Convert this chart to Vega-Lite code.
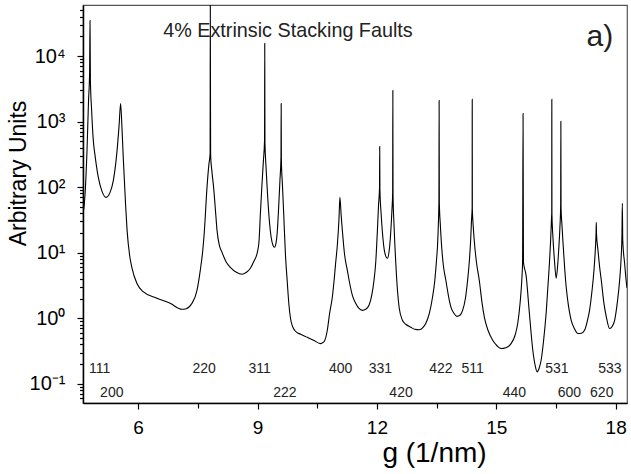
{
  "$schema": "https://vega.github.io/schema/vega-lite/v6.json",
  "width": 544,
  "height": 398,
  "autosize": {"type": "none"},
  "padding": {"left": 83, "top": 5, "right": 4, "bottom": 71},
  "background": "white",
  "config": {
    "view": {"stroke": "#555", "strokeWidth": 1.2},
    "font": "Liberation Sans",
    "axis": {"domainColor": "black", "domainWidth": 1.5, "tickColor": "black", "tickWidth": 1.2, "labelColor": "black", "labelFont": "Liberation Sans", "titleFont": "Liberation Sans", "titleColor": "black", "titleFontWeight": "normal", "grid": false}
  },
  "datasets": {
    "curve": [
      {"g":4.615,"I":37.2},{"g":4.665,"I":75},{"g":4.716,"I":364},{"g":4.754,"I":2100},{"g":4.781,"I":5620},{"g":4.791,"I":34900},{"g":4.801,"I":4250},{"g":4.832,"I":1480},{"g":4.874,"I":517},{"g":4.917,"I":305},{"g":5.0,"I":141},{"g":5.093,"I":86.3},{"g":5.194,"I":69.9},{"g":5.295,"I":83.3},{"g":5.378,"I":127},{"g":5.464,"I":327},{"g":5.522,"I":875},{"g":5.56,"I":1890},{"g":5.597,"I":734},{"g":5.63,"I":256},{"g":5.686,"I":52.8},{"g":5.723,"I":21.9},{"g":5.786,"I":9.13},{"g":5.842,"I":5.99},{"g":5.968,"I":3.42},{"g":6.134,"I":2.52},{"g":6.471,"I":2.02},{"g":6.806,"I":1.69},{"g":7.101,"I":1.37},{"g":7.209,"I":1.4},{"g":7.353,"I":1.69},{"g":7.479,"I":2.67},{"g":7.562,"I":5.39},{"g":7.625,"I":10.9},{"g":7.663,"I":20.5},{"g":7.731,"I":99.3},{"g":7.776,"I":215},{"g":7.809,"I":327},{"g":7.814,"I":60000},{"g":7.822,"I":305},{"g":7.852,"I":180},{"g":7.897,"I":99.3},{"g":7.953,"I":37.2},{"g":7.983,"I":21.9},{"g":8.041,"I":13},{"g":8.109,"I":10.1},{"g":8.217,"I":7.14},{"g":8.318,"I":5.99},{"g":8.469,"I":5.03},{"g":8.612,"I":4.69},{"g":8.721,"I":5.03},{"g":8.821,"I":5.78},{"g":8.909,"I":7.39},{"g":8.99,"I":9.8},{"g":9.036,"I":14.4},{"g":9.073,"I":39.9},{"g":9.111,"I":107},{"g":9.149,"I":256},{"g":9.177,"I":517},{"g":9.182,"I":15600},{"g":9.187,"I":482},{"g":9.212,"I":215},{"g":9.242,"I":99.3},{"g":9.287,"I":37.2},{"g":9.343,"I":17.2},{"g":9.388,"I":13},{"g":9.426,"I":12.1},{"g":9.464,"I":13.9},{"g":9.494,"I":19.8},{"g":9.534,"I":52.8},{"g":9.564,"I":127},{"g":9.59,"I":285},{"g":9.595,"I":1890},{"g":9.6,"I":256},{"g":9.627,"I":107},{"g":9.66,"I":37.2},{"g":9.703,"I":9.13},{"g":9.745,"I":3.8},{"g":9.791,"I":1.58},{"g":9.829,"I":1.0},{"g":9.879,"I":0.755},{"g":9.955,"I":0.634},{"g":10.081,"I":0.57},{"g":10.25,"I":0.513},{"g":10.409,"I":0.462},{"g":10.585,"I":0.411},{"g":10.668,"I":0.435},{"g":10.754,"I":0.656},{"g":10.812,"I":1.19},{"g":10.88,"I":2.09},{"g":10.925,"I":3.8},{"g":10.963,"I":6.89},{"g":11.006,"I":13},{"g":11.046,"I":31.2},{"g":11.071,"I":69.9},{"g":11.102,"I":37.2},{"g":11.132,"I":21.9},{"g":11.19,"I":9.13},{"g":11.258,"I":5.39},{"g":11.316,"I":3.42},{"g":11.384,"I":2.24},{"g":11.467,"I":1.69},{"g":11.55,"I":1.41},{"g":11.636,"I":1.32},{"g":11.719,"I":1.37},{"g":11.802,"I":1.58},{"g":11.87,"I":2.24},{"g":11.928,"I":3.8},{"g":11.971,"I":7.14},{"g":12.013,"I":21.9},{"g":12.041,"I":52.8},{"g":12.066,"I":95.9},{"g":12.071,"I":417},{"g":12.076,"I":89.4},{"g":12.104,"I":41.3},{"g":12.139,"I":20.5},{"g":12.197,"I":10.1},{"g":12.265,"I":8.21},{"g":12.31,"I":10.9},{"g":12.348,"I":20.5},{"g":12.378,"I":44.3},{"g":12.396,"I":80.4},{"g":12.401,"I":2990},{"g":12.406,"I":75},{"g":12.431,"I":26.2},{"g":12.474,"I":7.14},{"g":12.517,"I":2.67},{"g":12.562,"I":1.42},{"g":12.643,"I":0.932},{"g":12.726,"I":0.81},{"g":12.852,"I":0.729},{"g":12.953,"I":0.68},{"g":13.061,"I":0.668},{"g":13.154,"I":0.717},{"g":13.23,"I":0.839},{"g":13.318,"I":1.19},{"g":13.398,"I":2.09},{"g":13.456,"I":3.8},{"g":13.494,"I":7.14},{"g":13.524,"I":13},{"g":13.544,"I":26.2},{"g":13.559,"I":62.9},{"g":13.564,"I":2100},{"g":13.569,"I":58.7},{"g":13.595,"I":26.2},{"g":13.625,"I":13},{"g":13.67,"I":6.43},{"g":13.733,"I":3.8},{"g":13.796,"I":2.24},{"g":13.859,"I":1.49},{"g":13.935,"I":1.19},{"g":14.01,"I":1.07},{"g":14.086,"I":1.11},{"g":14.154,"I":1.32},{"g":14.225,"I":2.02},{"g":14.28,"I":3.8},{"g":14.325,"I":7.66},{"g":14.356,"I":15.5},{"g":14.378,"I":31.2},{"g":14.394,"I":49.2},{"g":14.396,"I":2180},{"g":14.399,"I":45.9},{"g":14.419,"I":26.2},{"g":14.446,"I":15.5},{"g":14.502,"I":7.14},{"g":14.573,"I":3.8},{"g":14.641,"I":1.75},{"g":14.699,"I":1.05},{"g":14.792,"I":0.656},{"g":14.91,"I":0.462},{"g":15.019,"I":0.381},{"g":15.119,"I":0.345},{"g":15.245,"I":0.355},{"g":15.371,"I":0.411},{"g":15.472,"I":0.551},{"g":15.54,"I":0.839},{"g":15.598,"I":1.69},{"g":15.641,"I":3.8},{"g":15.661,"I":7.14},{"g":15.673,"I":1330},{"g":15.683,"I":7.14},{"g":15.749,"I":4.52},{"g":15.832,"I":1.19},{"g":15.918,"I":0.325},{"g":15.976,"I":0.192},{"g":16.026,"I":0.152},{"g":16.077,"I":0.173},{"g":16.127,"I":0.229},{"g":16.19,"I":0.462},{"g":16.253,"I":1.19},{"g":16.303,"I":3.42},{"g":16.336,"I":6.89},{"g":16.366,"I":15.5},{"g":16.386,"I":31.2},{"g":16.394,"I":41.3},{"g":16.396,"I":2180},{"g":16.399,"I":38.5},{"g":16.421,"I":18.4},{"g":16.462,"I":7.66},{"g":16.505,"I":4.07},{"g":16.537,"I":5.78},{"g":16.568,"I":10.9},{"g":16.598,"I":23.5},{"g":16.618,"I":52.8},{"g":16.623,"I":1010},{"g":16.628,"I":47.5},{"g":16.651,"I":26.2},{"g":16.673,"I":15.5},{"g":16.719,"I":5.78},{"g":16.757,"I":3.0},{"g":16.82,"I":1.47},{"g":16.883,"I":0.932},{"g":16.959,"I":0.704},{"g":17.052,"I":0.585},{"g":17.135,"I":0.59},{"g":17.218,"I":0.656},{"g":17.286,"I":0.9},{"g":17.344,"I":1.32},{"g":17.407,"I":2.67},{"g":17.455,"I":5.39},{"g":17.488,"I":10.9},{"g":17.508,"I":20.5},{"g":17.513,"I":29.1},{"g":17.518,"I":19.8},{"g":17.556,"I":10.9},{"g":17.601,"I":5.78},{"g":17.639,"I":3.8},{"g":17.702,"I":1.75},{"g":17.765,"I":1.05},{"g":17.848,"I":0.697},{"g":17.916,"I":0.755},{"g":17.974,"I":0.932},{"g":18.042,"I":1.75},{"g":18.1,"I":3.8},{"g":18.137,"I":8.21},{"g":18.158,"I":18.4},{"g":18.168,"I":56.6},{"g":18.178,"I":15.5},{"g":18.225,"I":6.89},{"g":18.268,"I":3.54},{"g":18.285,"I":2.9}
    ],
    "labels": [
      {"g":5.036,"I":0.167,"t":"111"},{"g":7.658,"I":0.167,"t":"220"},{"g":9.053,"I":0.167,"t":"311"},{"g":11.089,"I":0.167,"t":"400"},{"g":12.089,"I":0.167,"t":"331"},{"g":13.607,"I":0.167,"t":"422"},{"g":14.406,"I":0.167,"t":"511"},{"g":16.524,"I":0.167,"t":"531"},{"g":17.857,"I":0.167,"t":"533"},
      {"g":5.338,"I":0.0719,"t":"200"},{"g":9.686,"I":0.0719,"t":"222"},{"g":12.607,"I":0.0719,"t":"420"},{"g":15.454,"I":0.0719,"t":"440"},{"g":16.839,"I":0.0719,"t":"600"},{"g":17.65,"I":0.0719,"t":"620"}
    ],
    "note": [{"g":6.63,"I":19200,"t":"4% Extrinsic Stacking Faults"}],
    "panel": [{"g":17.94,"I":14000,"t":"a)"}]
  },
  "encoding": {
    "x": {
      "field": "g", "type": "quantitative",
      "scale": {"domain": [4.615, 18.285], "nice": false, "zero": false},
      "axis": {
        "title": "g (1/nm)", "titleFontSize": 28, "titleX": 351, "titleY": 58, "titleAlign": "center", "titleBaseline": "alphabetic", "titleAnchor": null,
        "values": [6, 7.5, 9, 10.5, 12, 13.5, 15, 16.5, 18],
        "labelExpr": "datum.value % 3 == 0 ? datum.value : ''",
        "labelFontSize": 19, "labelPadding": 9, "labelOverlap": false, "labelFlush": false,
        "tickSize": {"condition": {"test": "datum.value % 3 == 0", "value": 6}, "value": 5}
      }
    },
    "y": {
      "field": "I", "type": "quantitative",
      "scale": {"type": "log", "domain": [0.051, 60000], "nice": false},
      "axis": {
        "title": "Arbitrary Units", "titleFontSize": 23, "titleAngle": 270, "titleX": -65, "titleY": 168, "titleAlign": "center", "titleBaseline": "middle", "titleAnchor": null,
        "values": [0.06,0.07,0.08,0.09,0.1,0.2,0.3,0.4,0.5,0.6,0.7,0.8,0.9,1,2,3,4,5,6,7,8,9,10,20,30,40,50,60,70,80,90,100,200,300,400,500,600,700,800,900,1000,2000,3000,4000,5000,6000,7000,8000,9000,10000,20000,30000,40000,50000],
        "labelExpr": "abs(log(datum.value)/LN10 - round(log(datum.value)/LN10)) > 0.001 ? '' : round(log(datum.value)/LN10) == -1 ? '10⁻¹' : round(log(datum.value)/LN10) == 0 ? '10⁰' : round(log(datum.value)/LN10) == 1 ? '10¹' : round(log(datum.value)/LN10) == 2 ? '10²' : round(log(datum.value)/LN10) == 3 ? '10³' : '10⁴'",
        "labelFontSize": 20, "labelPadding": 12, "labelOverlap": false, "labelFlush": false, "labelBaseline": "middle",
        "tickSize": {"condition": {"test": "abs(log(datum.value)/LN10 - round(log(datum.value)/LN10)) < 0.001", "value": 6}, "value": 3.5}
      }
    }
  },
  "layer": [
    {
      "data": {"name": "curve"},
      "mark": {"type": "line", "color": "black", "strokeWidth": 1.1, "clip": true, "interpolate": "monotone"}
    },
    {
      "data": {"name": "labels"},
      "mark": {"type": "text", "fontSize": 14, "align": "center", "baseline": "middle", "color": "#222", "font": "Liberation Sans"},
      "encoding": {"text": {"field": "t"}}
    },
    {
      "data": {"name": "note"},
      "mark": {"type": "text", "fontSize": 19.8, "align": "left", "baseline": "alphabetic", "color": "#222", "font": "Liberation Sans"},
      "encoding": {"text": {"field": "t"}}
    },
    {
      "data": {"name": "panel"},
      "mark": {"type": "text", "fontSize": 30, "align": "right", "baseline": "alphabetic", "color": "#222", "font": "Liberation Sans"},
      "encoding": {"text": {"field": "t"}}
    }
  ]
}
